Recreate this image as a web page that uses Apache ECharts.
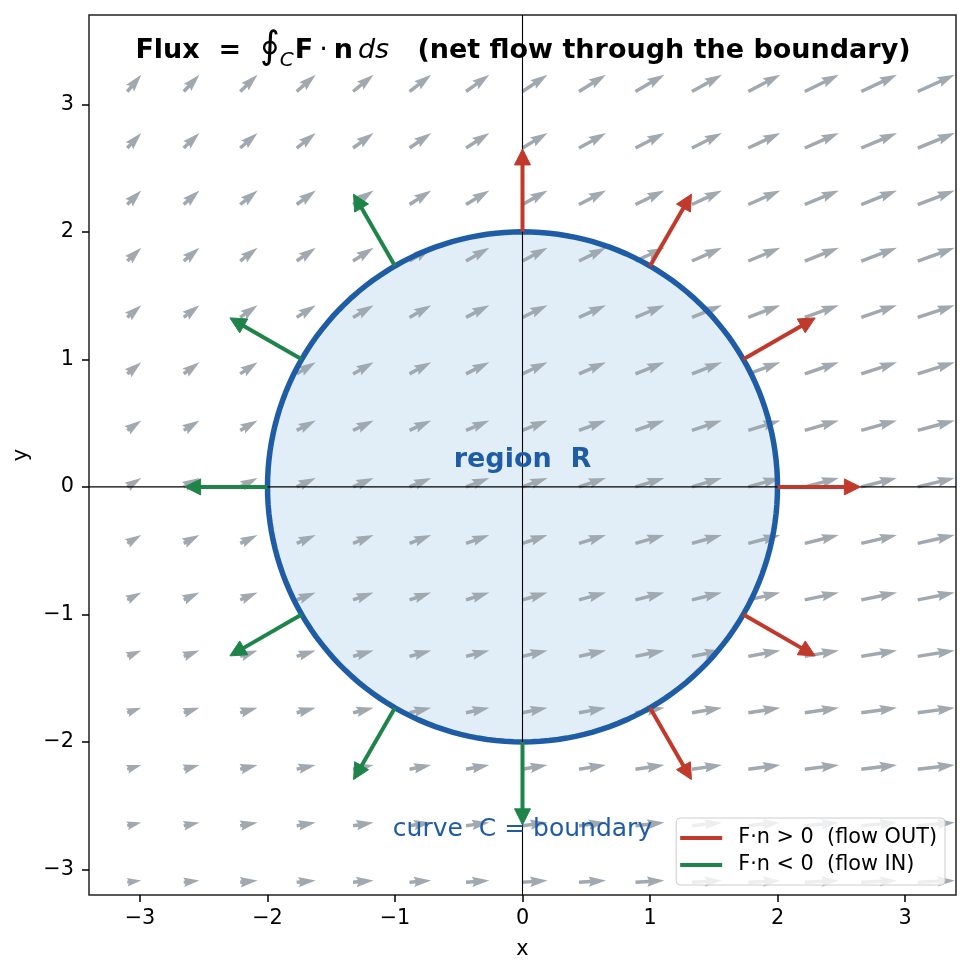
<!DOCTYPE html>
<html>
<head>
<meta charset="utf-8">
<script src="https://cdn.jsdelivr.net/npm/echarts@6/dist/echarts.min.js"></script>
<style>
  html, body { margin: 0; padding: 0; background: #fff; }
  #chart { width: 970px; height: 973px; }
</style>
</head>
<body>
<div id="chart"></div>
<script>
// axis limits and ticks
const xRange = [-3.4, 3.4]
const yRange = [-3.2, 3.7]
const tickValues = [-3, -2, -1, 0, 1, 2, 3]

// quiver grid (15 x 15) and field components
const gridX = [-3.1, -2.657, -2.214, -1.771, -1.329, -0.886, -0.443, 0, 0.443, 0.886, 1.329, 1.771, 2.214, 2.657, 3.1]
const gridY = [-3.1, -2.657, -2.214, -1.771, -1.329, -0.886, -0.443, 0, 0.443, 0.886, 1.329, 1.771, 2.214, 2.657, 3.1]
// horizontal component per column (left -> right)
const fieldU = [0.110, 0.123, 0.136, 0.149, 0.161, 0.170, 0.183, 0.196, 0.212, 0.227, 0.235, 0.251, 0.267, 0.280, 0.290]
// vertical component per row (bottom -> top)
const fieldV = [0.013, 0.026, 0.034, 0.039, 0.047, 0.057, 0.065, 0.070, 0.078, 0.092, 0.096, 0.104, 0.110, 0.117, 0.131]

// boundary curve C
const circleCenter = [0, 0]
const circleRadius = 2

// outward normals on C, split by sign of F·n (angles in degrees)
const normalOut = [0, 30, 60, 90, 300, 330]
const normalIn = [120, 150, 180, 210, 240, 270]
const normalTip = 2.65

// annotations
const noteText = ['region  R', 'curve  C = boundary']
const noteX = [0, 0]
const noteY = [0.21, -2.69]

const outName = 'F·n > 0  (flow OUT)'
const inName = 'F·n < 0  (flow IN)'

const FONT = 'DejaVu Sans'
const BLUE = '#1f5ca6'
const RED = '#c0392b'
const GREEN = '#1e8449'

let quiverData = []
gridY.forEach((y, j) => {
  gridX.forEach((x, i) => {
    quiverData.push([x, y, fieldU[i], fieldV[j]])
  })
})

// matplotlib-like quiver arrow (units of shaft width)
function quiverArrow(params, api) {
  const x = api.value(0), y = api.value(1)
  const p0 = api.coord([x, y])
  const p1 = api.coord([x + api.value(2), y + api.value(3)])
  const dx = p1[0] - p0[0], dy = p1[1] - p0[1]
  const L = Math.sqrt(dx * dx + dy * dy)
  const w = 3.47
  const len = L / w
  const hl = 5, hal = 4.5, hw = 3, minsh = 5
  let X, Y
  if (len < minsh) {
    const s = len / minsh
    X = [0, minsh - hal, minsh - hl, minsh, minsh - hl, minsh - hal, 0].map(v => v * s)
    Y = [0.5, 0.5, hw / 2, 0, -hw / 2, -0.5, -0.5].map(v => v * s)
  } else {
    X = [0, len - hal, len - hl, len, len - hl, len - hal, 0]
    Y = [0.5, 0.5, hw / 2, 0, -hw / 2, -0.5, -0.5]
  }
  const c = dx / L, sn = dy / L
  const pts = X.map((xx, k) => [p0[0] + (xx * c - Y[k] * sn) * w, p0[1] + (xx * sn + Y[k] * c) * w])
  return { type: 'polygon', shape: { points: pts }, style: { fill: '#a0a8b0' } }
}

function circlePoints(api) {
  let pts = []
  for (let k = 0; k <= 360; k += 2) {
    const a = k * Math.PI / 180
    pts.push(api.coord([circleCenter[0] + circleRadius * Math.cos(a), circleCenter[1] + circleRadius * Math.sin(a)]))
  }
  return pts
}

function normalArrow(color) {
  return function (params, api) {
    const a = api.value(0) * Math.PI / 180
    const s = api.coord([circleRadius * Math.cos(a), circleRadius * Math.sin(a)])
    const t = api.coord([normalTip * Math.cos(a), normalTip * Math.sin(a)])
    const dx = t[0] - s[0], dy = t[1] - s[1]
    const L = Math.sqrt(dx * dx + dy * dy)
    const ux = dx / L, uy = dy / L
    const hl = 16, hw = 8
    const b = [t[0] - ux * hl, t[1] - uy * hl]
    return {
      type: 'group',
      children: [
        { type: 'line', shape: { x1: s[0], y1: s[1], x2: b[0] + ux * 2, y2: b[1] + uy * 2 }, style: { stroke: color, lineWidth: 4 } },
        { type: 'polygon', shape: { points: [t, [b[0] - uy * hw, b[1] + ux * hw], [b[0] + uy * hw, b[1] - ux * hw]] }, style: { fill: color, stroke: color, lineWidth: 1, lineJoin: 'miter' } }
      ]
    }
  }
}

const myChart = echarts.init(document.getElementById('chart'), null, { renderer: 'canvas' })

const axisCommon = {
  type: 'value',
  nameLocation: 'middle',
  nameTextStyle: { fontFamily: FONT, fontSize: 20.8, color: '#000' },
  axisLine: { show: false, onZero: false },
  splitLine: { show: false },
  axisTick: { show: true, inside: false, length: 7, customValues: tickValues, lineStyle: { color: '#000', width: 1.5 } },
  axisLabel: {
    customValues: tickValues,
    fontFamily: FONT, fontSize: 20.8, color: '#000',
    formatter: v => (v < 0 ? '\u2212' + (-v) : '' + v)
  }
}

const option = {
  animation: false,
  backgroundColor: '#fff',
  grid: { left: 89, right: 14, top: 15, bottom: 78, show: true, borderColor: '#222', borderWidth: 1.5, backgroundColor: 'transparent' },
  xAxis: Object.assign({}, axisCommon, {
    min: xRange[0], max: xRange[1], name: 'x', nameGap: 44,
    axisLabel: Object.assign({}, axisCommon.axisLabel, { margin: 13 })
  }),
  yAxis: Object.assign({}, axisCommon, {
    min: yRange[0], max: yRange[1], name: 'y', nameGap: 52,
    axisLabel: Object.assign({}, axisCommon.axisLabel, { margin: 15 })
  }),
  legend: {
    orient: 'vertical',
    right: 25, bottom: 88,
    data: [outName, inName],
    icon: 'rect',
    itemWidth: 42, itemHeight: 4, itemGap: 5,
    padding: [9, 8, 9, 4],
    backgroundColor: 'rgba(255,255,255,0.8)',
    borderColor: '#cccccc', borderWidth: 1, borderRadius: 4,
    selectedMode: false,
    textStyle: { fontFamily: FONT, fontSize: 20.8, lineHeight: 22, color: '#000', padding: [0, 0, 0, 11] }
  },
  graphic: [{
    type: 'text',
    x: 523, y: 51,
    z: 10,
    style: {
      text: '{b|Flux  =  }{o|∮}{s|C}{b|F}{m|·}{b|n}{i|ds}{b|   (net flow through the boundary)}',
      textAlign: 'center', textVerticalAlign: 'middle',
      rich: {
        b: { fontFamily: FONT, fontWeight: 'bold', fontSize: 27, fill: '#000' },
        o: { fontFamily: FONT, fontSize: 38, fill: '#000', padding: [0, 0, 6, 0] },
        s: { fontFamily: FONT, fontStyle: 'italic', fontSize: 20, fill: '#000', padding: [20, 1, 0, 0] },
        m: { fontFamily: FONT, fontSize: 27, fill: '#000', padding: [0, 6, 0, 6] },
        i: { fontFamily: FONT, fontStyle: 'italic', fontSize: 27, fill: '#000', padding: [0, 0, 0, 5] }
      }
    }
  }],
  series: [
    {
      name: 'region', type: 'custom', coordinateSystem: 'cartesian2d', silent: true, z: 1,
      data: [circleCenter],
      renderItem: (params, api) => ({ type: 'polygon', shape: { points: circlePoints(api) }, style: { fill: '#e1eef8' } })
    },
    {
      name: 'field', type: 'custom', coordinateSystem: 'cartesian2d', silent: true, clip: true, z: 2,
      data: quiverData,
      renderItem: quiverArrow
    },
    {
      name: 'curve', type: 'custom', coordinateSystem: 'cartesian2d', silent: true, z: 3,
      data: [circleCenter],
      renderItem: (params, api) => ({ type: 'polygon', shape: { points: circlePoints(api) }, style: { fill: 'none', stroke: BLUE, lineWidth: 5.5 } })
    },
    {
      name: 'zero', type: 'custom', coordinateSystem: 'cartesian2d', silent: true, z: 4,
      data: [[0, 0]],
      renderItem: (params, api) => {
        const a = api.coord([0, yRange[0]]), b = api.coord([0, yRange[1]])
        const c = api.coord([xRange[0], 0]), d = api.coord([xRange[1], 0])
        return {
          type: 'group', children: [
            { type: 'line', shape: { x1: a[0], y1: a[1], x2: b[0], y2: b[1] }, style: { stroke: '#000', lineWidth: 1.1 } },
            { type: 'line', shape: { x1: c[0], y1: c[1], x2: d[0], y2: d[1] }, style: { stroke: '#000', lineWidth: 1.1 } }
          ]
        }
      }
    },
    {
      name: outName, type: 'custom', coordinateSystem: 'cartesian2d', silent: true, z: 5,
      itemStyle: { color: RED },
      data: normalOut.map(a => [a]),
      renderItem: normalArrow(RED)
    },
    {
      name: inName, type: 'custom', coordinateSystem: 'cartesian2d', silent: true, z: 5,
      itemStyle: { color: GREEN },
      data: normalIn.map(a => [a]),
      renderItem: normalArrow(GREEN)
    },
    {
      name: 'notes', type: 'custom', coordinateSystem: 'cartesian2d', silent: true, z: 6,
      data: noteX.map((x, i) => [x, noteY[i]]),
      renderItem: (params, api) => {
        const p = api.coord([api.value(0), api.value(1)])
        const first = params.dataIndex === 0
        return {
          type: 'text', x: p[0], y: p[1],
          style: {
            text: noteText[params.dataIndex],
            fontFamily: FONT, fontWeight: first ? 'bold' : 'normal', fontSize: first ? 27 : 25,
            fill: BLUE, textAlign: 'center', textVerticalAlign: 'middle'
          }
        }
      }
    }
  ]
}

myChart.setOption(option)
window.onresize = function () {
  myChart.resize()
}
</script>
</body>
</html>
